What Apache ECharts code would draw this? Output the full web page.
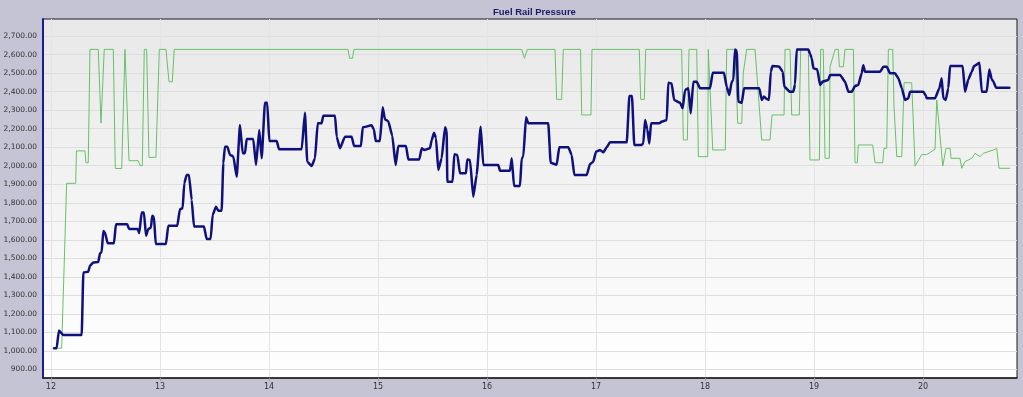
<!DOCTYPE html>
<html>
<head>
<meta charset="utf-8">
<title>Fuel Rail Pressure</title>
<script src="https://cdn.jsdelivr.net/npm/echarts@6/dist/echarts.min.js"></script>
<style>
html, body { margin: 0; padding: 0; background: #c4c4d4; }
#chart { width: 1023px; height: 397px; }
</style>
</head>
<body>
<div id="chart"></div>
<script>
// tick labels
var xTicks = [12, 13, 14, 15, 16, 17, 18, 19, 20];
var yTicks = [900, 1000, 1100, 1200, 1300, 1400, 1500, 1600, 1700, 1800, 1900,
  2000, 2100, 2200, 2300, 2400, 2500, 2600, 2700];

// green trace [time, pressure]
var greenTrace = [
  [12.037,1015],[12.098,1015],[12.144,1905],[12.227,1905],[12.234,2080],[12.312,2080],[12.321,2016],[12.342,2016],
  [12.358,2628],[12.434,2628],[12.459,2230],[12.474,2230],[12.489,2628],[12.572,2628],[12.590,1985],[12.649,1985],
  [12.679,2628],[12.694,2628],[12.716,2027],[12.801,2027],[12.817,2000],[12.838,2000],[12.856,2628],[12.878,2628],
  [12.899,2045],[12.963,2045],[12.994,2628],[13.055,2628],[13.083,2453],[13.113,2453],[13.131,2628],[14.725,2628],
  [14.739,2580],[14.766,2580],[14.780,2628],[16.318,2628],[16.344,2580],[16.370,2628],[16.624,2628],[16.639,2358],
  [16.685,2358],[16.700,2628],[16.858,2628],[16.869,2274],[16.954,2274],[16.963,2628],[17.397,2628],[17.410,2358],
  [17.443,2358],[17.456,2628],[17.786,2628],[17.801,2139],[17.838,2139],[17.853,2628],[17.924,2628],[17.939,2049],
  [18.025,2049],[18.030,2628],[18.046,2628],[18.071,2085],[18.186,2085],[18.199,2628],[18.275,2628],[18.300,2229],
  [18.337,2229],[18.351,2499],[18.382,2628],[18.459,2628],[18.520,2139],[18.596,2139],[18.615,2274],[18.725,2274],
  [18.734,2628],[18.780,2628],[18.795,2274],[18.865,2274],[18.878,2628],[18.948,2628],[18.963,2031],[19.049,2031],
  [19.061,2628],[19.085,2628],[19.101,2040],[19.140,2040],[19.147,2534],[19.193,2628],[19.223,2628],[19.232,2534],
  [19.269,2534],[19.284,2628],[19.361,2628],[19.376,2016],[19.397,2016],[19.406,2112],[19.538,2112],[19.560,2016],
  [19.630,2016],[19.642,2094],[19.667,2094],[19.682,2628],[19.722,2628],[19.734,2318],[19.759,2049],[19.805,2049],
  [19.826,2448],[19.896,2448],[19.927,1998],[19.988,2060],[20.034,2060],[20.110,2089],[20.126,2355],[20.181,1998],
  [20.211,2094],[20.248,2094],[20.257,2040],[20.339,2040],[20.355,1986],[20.385,2022],[20.447,2040],[20.477,2067],
  [20.523,2049],[20.553,2067],[20.645,2085],[20.676,2094],[20.697,1986],[20.798,1986]
];

// navy trace [time, pressure]
var navyTrace = [
  [12.028,1014],[12.052,1014],[12.073,1110],[12.113,1086],[12.282,1086],[12.297,1423],[12.342,1428],[12.358,1460],
  [12.388,1478],[12.434,1480],[12.450,1527],[12.465,1533],[12.480,1648],[12.495,1640],[12.520,1581],[12.578,1581],
  [12.596,1684],[12.700,1684],[12.716,1658],[12.795,1658],[12.810,1637],[12.832,1747],[12.853,1747],[12.872,1622],
  [12.893,1658],[12.917,1665],[12.929,1730],[12.945,1725],[12.961,1577],[13.055,1577],[13.076,1676],[13.159,1676],
  [13.183,1765],[13.208,1770],[13.223,1905],[13.245,1950],[13.266,1950],[13.291,1815],[13.312,1672],[13.404,1672],
  [13.428,1604],[13.465,1604],[13.483,1734],[13.514,1779],[13.535,1757],[13.566,1757],[13.581,2013],[13.596,2103],
  [13.618,2103],[13.642,2058],[13.673,2050],[13.704,1941],[13.734,2220],[13.759,2067],[13.780,2067],[13.795,2144],
  [13.856,2144],[13.881,2004],[13.911,2193],[13.933,2040],[13.963,2340],[13.984,2340],[14.003,2133],[14.071,2133],
  [14.092,2089],[14.300,2089],[14.330,2286],[14.351,2022],[14.392,1998],[14.422,2040],[14.447,2229],[14.483,2229],
  [14.498,2270],[14.606,2270],[14.621,2157],[14.651,2094],[14.697,2157],[14.759,2157],[14.780,2106],[14.844,2106],
  [14.860,2207],[14.942,2218],[14.963,2195],[14.979,2133],[15.018,2133],[15.043,2315],[15.064,2250],[15.094,2240],
  [15.131,2162],[15.162,2004],[15.186,2106],[15.257,2106],[15.278,2034],[15.379,2034],[15.401,2094],[15.425,2085],
  [15.477,2094],[15.493,2139],[15.514,2178],[15.532,2150],[15.553,1977],[15.584,2040],[15.615,2207],[15.630,2190],
  [15.636,1914],[15.685,1914],[15.700,2062],[15.728,2058],[15.752,1959],[15.807,1959],[15.819,2034],[15.844,2031],
  [15.874,1833],[15.905,1950],[15.942,2211],[15.966,2004],[16.104,2004],[16.119,1973],[16.211,1973],[16.227,2040],
  [16.248,1890],[16.303,1890],[16.318,2040],[16.333,2049],[16.358,2261],[16.379,2229],[16.562,2229],[16.584,2016],
  [16.639,2005],[16.663,2099],[16.746,2099],[16.777,2058],[16.801,1950],[16.915,1950],[16.945,2009],[16.975,2022],
  [17.000,2076],[17.037,2085],[17.067,2072],[17.098,2100],[17.128,2126],[17.282,2126],[17.306,2376],[17.330,2376],
  [17.351,2112],[17.419,2112],[17.434,2120],[17.450,2247],[17.471,2195],[17.489,2120],[17.505,2229],[17.581,2229],
  [17.603,2238],[17.649,2247],[17.663,2448],[17.694,2444],[17.716,2355],[17.771,2340],[17.795,2310],[17.817,2409],
  [17.847,2418],[17.869,2283],[17.893,2453],[17.924,2453],[17.954,2418],[18.046,2418],[18.071,2502],[18.174,2502],
  [18.199,2426],[18.223,2382],[18.245,2453],[18.260,2462],[18.275,2628],[18.291,2620],[18.306,2345],[18.337,2340],
  [18.358,2418],[18.498,2418],[18.520,2355],[18.541,2373],[18.567,2360],[18.587,2355],[18.603,2507],[18.618,2538],
  [18.679,2535],[18.713,2507],[18.728,2426],[18.780,2399],[18.810,2399],[18.826,2440],[18.841,2628],[18.948,2628],
  [18.963,2605],[18.979,2580],[18.994,2526],[19.030,2520],[19.055,2436],[19.080,2454],[19.131,2463],[19.147,2490],
  [19.239,2490],[19.284,2454],[19.315,2399],[19.346,2399],[19.376,2430],[19.406,2436],[19.437,2499],[19.452,2543],
  [19.468,2507],[19.606,2507],[19.636,2534],[19.667,2534],[19.697,2499],[19.743,2499],[19.774,2472],[19.805,2418],
  [19.835,2355],[19.865,2364],[19.881,2399],[20.003,2399],[20.024,2380],[20.034,2364],[20.110,2364],[20.150,2418],
  [20.171,2472],[20.186,2364],[20.208,2355],[20.232,2418],[20.248,2538],[20.364,2538],[20.385,2399],[20.416,2467],
  [20.447,2507],[20.468,2538],[20.517,2556],[20.539,2399],[20.584,2399],[20.608,2520],[20.630,2467],[20.645,2454],
  [20.670,2421],[20.792,2421]
];

function fmtNum(v) {
  var s = Math.round(v).toString();
  s = s.replace(/\B(?=(\d{3})+(?!\d))/g, ",");
  return s + ".00";
}

function drawLine() {
  try {
    var chart = echarts.init(document.getElementById("chart"));
    var option = {
      animation: false,
      backgroundColor: "#c4c4d4",
      title: {
        text: "Fuel Rail Pressure",
        left: 488,
        top: 2,
        textStyle: {
          fontFamily: "Liberation Sans",
          fontWeight: "bold",
          fontSize: 9.5,
          color: "#1a1a66"
        }
      },
      grid: {
        left: 43,
        right: 6,
        top: 19,
        bottom: 19,
        show: true,
        borderColor: "#1a1a1a",
        borderWidth: 1,
        backgroundColor: new echarts.graphic.LinearGradient(0, 0, 0, 1, [
          { offset: 0, color: "#e8e8e8" },
          { offset: 1, color: "#ffffff" }
        ])
      },
      xAxis: {
        type: "value",
        min: 11.927,
        max: 20.862,
        axisLine: {
          show: true,
          onZero: false,
          lineStyle: { color: "#222", width: 1.5 }
        },
        axisTick: {
          show: true,
          customValues: xTicks,
          length: 3,
          lineStyle: { color: "#999" }
        },
        axisLabel: {
          customValues: xTicks,
          fontFamily: "DejaVu Sans",
          fontSize: 8,
          color: "#333",
          margin: 5
        },
        splitLine: {
          show: true,
          lineStyle: { color: "#e4e4e4" }
        }
      },
      yAxis: {
        type: "value",
        min: 854,
        max: 2792,
        axisLine: {
          show: true,
          lineStyle: { color: "#1c1c8c", width: 2 }
        },
        axisTick: { show: false, customValues: yTicks },
        axisLabel: {
          customValues: yTicks,
          formatter: fmtNum,
          fontFamily: "DejaVu Sans",
          fontSize: 7.5,
          color: "#333",
          margin: 6
        },
        splitLine: {
          show: true,
          lineStyle: { color: "#dedede" }
        }
      },
      series: [
        {
          type: "line",
          data: greenTrace,
          showSymbol: false,
          lineStyle: { color: "#66c266", width: 1 },
          z: 2
        },
        {
          type: "line",
          data: navyTrace,
          showSymbol: false,
          smooth: 0.15,
          smoothMonotone: "x",
          lineStyle: { color: "#10107c", width: 2.5, join: "round", cap: "round" },
          z: 3
        }
      ]
    };
    chart.setOption(option);
  } catch (error) {
    console.log(error);
  }
}

drawLine();
</script>
</body>
</html>
